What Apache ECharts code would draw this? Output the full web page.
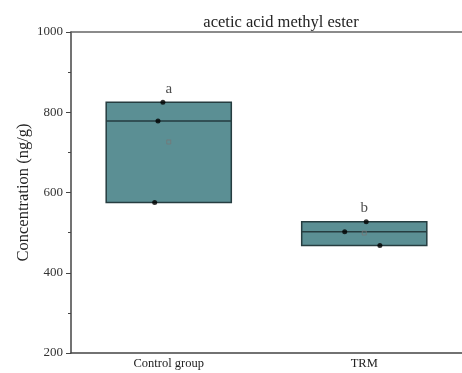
<!DOCTYPE html>
<html style="height: 100%;width: 100%">
<head>
    <meta charset="utf-8">
    <script src="https://cdn.jsdelivr.net/npm/echarts@6/dist/echarts.min.js"></script>
</head>
<body style="height: 100%;width: 100%;margin: 0;overflow: hidden;background: #fff">
<div id="container" style="width: 462px;height: 373px"></div>
<script type="text/javascript">
// groups and raw measurements (ng/g)
var groups = ['Control group', 'TRM'];
var controlPoints = [825, 778, 575];
var trmPoints = [527, 502, 468];
var controlJitter = [-0.03, -0.055, -0.072];
var trmJitter = [0.01, -0.1, 0.08];
var means = [726, 499];
var letters = ['a', 'b'];
var yTicks = [200, 400, 600, 800, 1000];

function boxOf(arr) {
    var s = arr.slice().sort(function (a, b) { return a - b; });
    return [s[0], s[0], s[1], s[2], s[2]];
}

var pts = [];
controlPoints.forEach(function (v, i) { pts.push([0 + controlJitter[i], v]); });
trmPoints.forEach(function (v, i) { pts.push([1 + trmJitter[i], v]); });

var maxes = [Math.max.apply(null, controlPoints), Math.max.apply(null, trmPoints)];

var myChart = echarts.init(document.getElementById('container'));
var serif = '"Liberation Serif", "DejaVu Serif", serif';

option = {
    animation: false,
    title: {
        text: 'acetic acid methyl ester',
        left: 276, top: 9, textAlign: 'center',
        textStyle: { fontFamily: serif, fontSize: 16.5, fontWeight: 'normal', color: '#222' }
    },
    grid: { left: 71, top: 32, bottom: 20, right: -11 },
    xAxis: [{
        type: 'category',
        data: groups,
        boundaryGap: true,
        axisLine: { lineStyle: { color: '#444', width: 1.5 } },
        axisTick: { alignWithLabel: true, length: 5, lineStyle: { color: '#444' } },
        axisLabel: { fontFamily: serif, fontSize: 12.5, color: '#222', margin: 4 }
    }, {
        type: 'value',
        position: 'top',
        min: -0.5, max: 1.5,
        axisLine: { show: true, onZero: false, lineStyle: { color: '#666', width: 1.5 } },
        axisTick: { show: false },
        axisLabel: { show: false },
        splitLine: { show: false }
    }],
    yAxis: {
        type: 'value',
        min: yTicks[0], max: yTicks[yTicks.length - 1], interval: 200,
        name: 'Concentration (ng/g)',
        nameLocation: 'middle',
        nameGap: 39,
        nameMoveOverlap: false,
        nameTextStyle: { fontFamily: serif, fontSize: 16.5, color: '#222' },
        axisLine: { show: true, onZero: false, lineStyle: { color: '#444', width: 1.5 } },
        axisTick: { show: true, length: 5, lineStyle: { color: '#444' } },
        minorTick: { show: true, splitNumber: 2, length: 3, lineStyle: { color: '#444' } },
        axisLabel: {
            fontFamily: serif, fontSize: 13, color: '#333', margin: 8,
            formatter: function (v) { return String(v); }
        },
        splitLine: { show: false }
    },
    series: [{
        type: 'boxplot',
        xAxisIndex: 0,
        boxWidth: ['64%', '64%'],
        data: [boxOf(controlPoints), boxOf(trmPoints)],
        itemStyle: { color: '#5b8f94', borderColor: '#263d40', borderWidth: 1.5 }
    }, {
        type: 'scatter',
        xAxisIndex: 1,
        data: pts,
        symbol: 'circle',
        symbolSize: 5,
        itemStyle: { color: '#000' },
        z: 5
    }, {
        type: 'scatter',
        xAxisIndex: 1,
        data: means.map(function (v, i) { return [i, v]; }),
        symbol: 'rect',
        symbolSize: 4,
        itemStyle: { color: 'rgba(0,0,0,0)', borderColor: '#777', borderWidth: 1 },
        z: 5
    }, {
        type: 'scatter',
        xAxisIndex: 1,
        data: maxes.map(function (v, i) { return [i, v]; }),
        symbolSize: 0,
        label: {
            show: true, position: 'top', distance: 6,
            formatter: function (p) { return letters[p.dataIndex]; },
            fontFamily: serif, fontSize: 15, color: '#222'
        },
        z: 6
    }]
};

myChart.setOption(option);
</script>
</body>
</html>
